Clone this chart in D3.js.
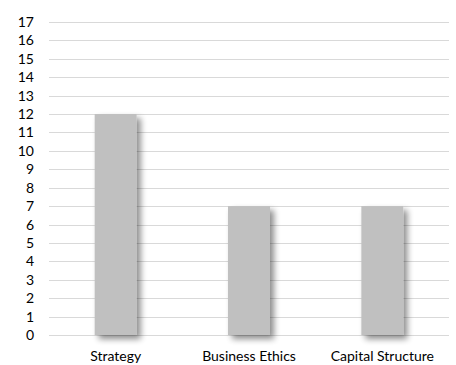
<!DOCTYPE html>
<html>
<head>
<meta charset="utf-8">
<script src="https://cdn.jsdelivr.net/npm/d3@7"></script>
<style>
  html, body { margin: 0; padding: 0; background: #fff; }
  text { font-family: Lato, "Open Sans", sans-serif; fill: #000; }
</style>
</head>
<body>
<svg id="chart" width="456" height="365"></svg>
<script>
const categories = ["Strategy", "Business Ethics", "Capital Structure"];
const counts = [12, 7, 7];
const yTicks = d3.range(0, 18);

const svg = d3.select("#chart");
const margin = { top: 22, right: 7, bottom: 30, left: 49 };
const width = 456 - margin.left - margin.right;
const height = 365 - margin.top - margin.bottom;

const defs = svg.append("defs");
const shadow = defs.append("filter")
  .attr("id", "barShadow")
  .attr("x", "-20%").attr("y", "-10%")
  .attr("width", "160%").attr("height", "130%");
shadow.append("feGaussianBlur").attr("in", "SourceAlpha").attr("stdDeviation", 3).attr("result", "blur");
shadow.append("feOffset").attr("in", "blur").attr("dx", 4).attr("dy", 4).attr("result", "off");
shadow.append("feComponentTransfer").attr("in", "off").attr("result", "shade")
  .append("feFuncA").attr("type", "linear").attr("slope", 0.45);
const merge = shadow.append("feMerge");
merge.append("feMergeNode").attr("in", "shade");
merge.append("feMergeNode").attr("in", "SourceGraphic");

const g = svg.append("g").attr("transform", `translate(${margin.left},${margin.top})`);

const x = d3.scaleBand().domain(categories).range([0, width]).paddingInner(0.685).paddingOuter(0.3425);
const y = d3.scaleLinear().domain([0, 17]).range([height, 0]);

// horizontal gridlines
g.append("g")
  .selectAll("line")
  .data(yTicks)
  .join("line")
  .attr("x1", 0).attr("x2", width)
  .attr("y1", d => Math.round(y(d)) + 0.5)
  .attr("y2", d => Math.round(y(d)) + 0.5)
  .attr("stroke", "#d9d9d9")
  .attr("stroke-width", 1);

// y axis labels
const yAxis = g.append("g")
  .attr("transform", "translate(-15,0)")
  .call(d3.axisLeft(y).tickValues(yTicks).tickSize(0).tickPadding(0).tickFormat(d3.format("d")));
yAxis.select(".domain").remove();
yAxis.selectAll("text").style("font-size", "14px").attr("fill", "#000");

// bars
g.append("g")
  .selectAll("rect")
  .data(categories.map((c, i) => ({ c, v: counts[i] })))
  .join("rect")
  .attr("x", d => x(d.c))
  .attr("y", d => y(d.v))
  .attr("width", x.bandwidth())
  .attr("height", d => y(0) - y(d.v))
  .attr("fill", "#c0c0c0")
  .attr("filter", "url(#barShadow)");

// x axis labels
const xAxis = g.append("g")
  .attr("transform", `translate(0,${height})`)
  .call(d3.axisBottom(x).tickSize(0).tickPadding(16));
xAxis.select(".domain").remove();
xAxis.selectAll("text").style("font-size", "14px").attr("fill", "#000");
</script>
</body>
</html>
